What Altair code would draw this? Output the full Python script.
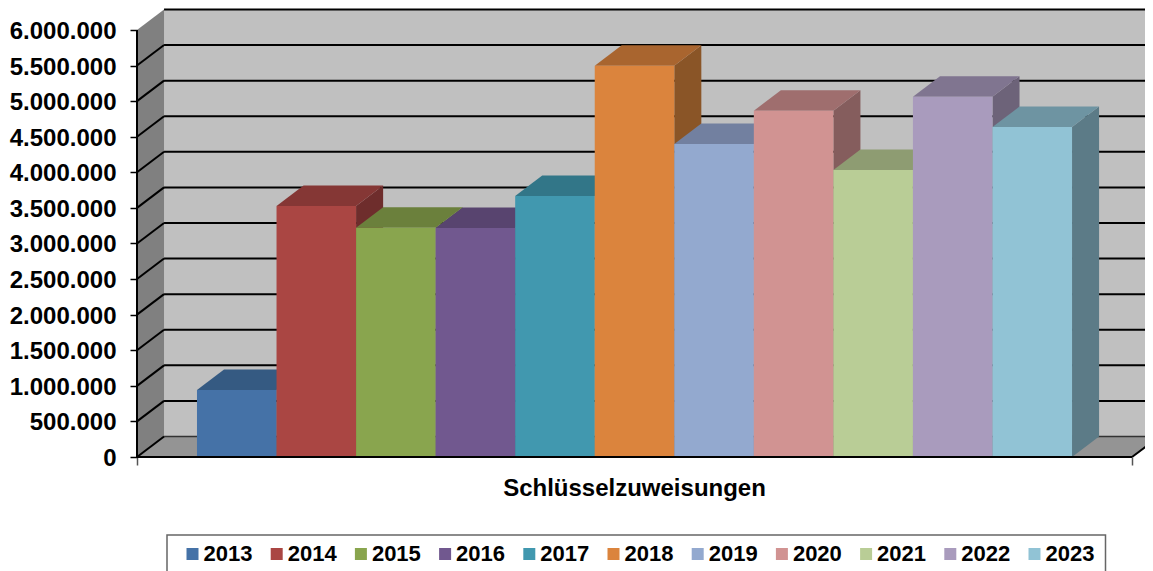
import altair as alt
import pandas as pd

# ---- chart values ----
years = ["2013","2014","2015","2016","2017","2018","2019","2020","2021","2022","2023"]
values = [941000,3527000,3222000,3218000,3667000,5498000,4398000,4866000,4033000,5063000,4637000]
front_colors = ["#4572A7","#AA4643","#89A54E","#71588F","#4198AF","#DB843D","#93A9CF","#D19392","#B9CD96","#A99BBD","#91C3D5"]
top_colors = ["#355A82","#853735","#6B803C","#58446F","#327688","#A9652F","#7280A0","#9F6E6E","#8E9C72","#807590","#6E94A2"]
side_colors = ["#2C4A6C","#6E2D2C","#596A32","#49395D","#2A6271","#8A5527","#5F6B86","#855D5D","#778660","#6D6379","#5C7B87"]
ticks = [0,500000,1000000,1500000,2000000,2500000,3000000,3500000,4000000,4500000,5000000,5500000,6000000]
title_text = "Schlüsselzuweisungen"

# ---- projection of the pseudo-3D box, in data units ----
GAP = 0.754      # free slots either side of the bars
DX = 0.34        # depth in slots
DY = 288000      # depth in value units
TOP = 6000000
XD = [-GAP, -GAP + 1008 / 79.55]
YD = [-1601800, 6308800]
FONT = "Liberation Sans"
xr = 11 + GAP

x_scale = alt.Scale(domain=XD, nice=False, zero=False)
y_scale = alt.Scale(domain=YD, nice=False, zero=False)
x_axis = alt.Axis(title=title_text, values=[-GAP, xr], labels=False, domain=False, grid=False,
                  tickSize=8, tickWidth=1.5, tickColor="#555555", offset=-114,
                  titleFont=FONT, titleFontSize=24, titleFontWeight="bold", titleColor="black",
                  titleX=497, titleY=19, titleAnchor="middle", titleAlign="center")
y_axis = alt.Axis(title=None, values=ticks, domain=False, grid=False, tickSize=7, tickWidth=1.5,
                  tickColor="black", labelPadding=14, labelFont=FONT, labelFontSize=24, labelOffset=1.5,
                  labelFontWeight="bold", labelColor="black", labelBaseline="middle", labelAlign="right",
                  labelExpr="replace(format(datum.value, ','), /,/g, '.')")

X = lambda f: alt.X(f, type="quantitative", scale=x_scale, axis=x_axis)
Y = lambda f: alt.Y(f, type="quantitative", scale=y_scale, axis=y_axis, stack=None)
X2 = lambda f: alt.X2(f)
Y2 = lambda f: alt.Y2(f)

# back wall
wall = pd.DataFrame({"a":[-GAP+DX],"b":[xr+DX],"c":[DY],"d":[TOP+DY]})
back = alt.Chart(wall).mark_rect(color="#C0C0C0").encode(x=X("a"), x2=X2("b"), y=Y("c"), y2=Y2("d"))

left = pd.DataFrame({"x":[-GAP,-GAP+DX],"y":[0,DY],"y2":[TOP,TOP+DY]})
left_wall = alt.Chart(left).mark_area(color="#808080", orient="vertical").encode(x=X("x"), y=Y("y"), y2=Y2("y2"))

floor = pd.DataFrame({"y":[0,DY],"x":[-GAP,-GAP+DX],"x2":[xr,xr+DX]})
floor_area = alt.Chart(floor).mark_area(color="#949494", orient="horizontal").encode(y=Y("y"), x=X("x"), x2=X2("x2"))

grid_back = pd.DataFrame({"v":[t+DY for t in ticks[1:]], "a":-GAP+DX, "b":xr+DX})
g_back = alt.Chart(grid_back).mark_rule(color="black", strokeWidth=2).encode(x=X("a"), x2=X2("b"), y=Y("v"))
base_back = alt.Chart(pd.DataFrame({"v":[DY],"a":[-GAP+DX],"b":[xr+DX]})).mark_rule(color="#333333", strokeWidth=1.5).encode(x=X("a"), x2=X2("b"), y=Y("v"))

diag = pd.DataFrame({"a":-GAP,"b":-GAP+DX,"v":ticks[:-1],"w":[t+DY for t in ticks[:-1]]})
g_diag = alt.Chart(diag).mark_rule(color="black", strokeWidth=2).encode(x=X("a"), x2=X2("b"), y=Y("v"), y2=Y2("w"))
right_edge = alt.Chart(pd.DataFrame({"a":[xr],"b":[xr+DX],"v":[0],"w":[DY]})).mark_rule(color="black", strokeWidth=2).encode(
    x=X("a"), x2=X2("b"), y=Y("v"), y2=Y2("w"))

# bars: sides, then tops, then fronts
side_rows, top_rows, front_rows = [], [], []
for k, (yr, v) in enumerate(zip(years, values)):
    side_rows += [{"c":side_colors[k],"x":k+1,"y":0,"y2":v},{"c":side_colors[k],"x":k+1+DX,"y":DY,"y2":v+DY}]
    top_rows += [{"c":top_colors[k],"y":v,"x":k,"x2":k+1},{"c":top_colors[k],"y":v+DY,"x":k+DX,"x2":k+1+DX}]
    front_rows.append({"year":yr,"a":k,"b":k+1,"v":v,"z":0})

sides = alt.Chart(pd.DataFrame(side_rows)).mark_area(orient="vertical").encode(
    x=X("x"), y=Y("y"), y2=Y2("y2"), color=alt.Color("c:N", scale=None))
tops = alt.Chart(pd.DataFrame(top_rows)).mark_area(orient="horizontal").encode(
    y=Y("y"), x=X("x"), x2=X2("x2"), color=alt.Color("c:N", scale=None))
fronts = alt.Chart(pd.DataFrame(front_rows)).mark_rect().encode(
    x=X("a"), x2=X2("b"), y=Y("v"), y2=Y2("z"),
    color=alt.Color("year:N", scale=alt.Scale(domain=years, range=front_colors),
                    legend=alt.Legend(orient="none", legendX=44.5, legendY=535, direction="horizontal", columns=11,
                                      title=None, symbolType="square", symbolSize=144, symbolStrokeWidth=0,
                                      labelFont=FONT, labelFontSize=22, labelFontWeight="bold", labelColor="black",
                                      columnPadding=13.2, labelOffset=0, padding=0)))

axis_line = alt.Chart(pd.DataFrame({"a":[-GAP],"v":[0],"w":[TOP]})).mark_rule(color="black", strokeWidth=2).encode(x=X("a"), y=Y("v"), y2=Y2("w"))
base_line = alt.Chart(pd.DataFrame({"a":[-GAP],"b":[xr],"v":[0]})).mark_rule(color="black", strokeWidth=2).encode(x=X("a"), x2=X2("b"), y=Y("v"))

legend_box = alt.Chart(pd.DataFrame({"o":[0]})).mark_rect(fill="white", stroke="#666666", strokeWidth=1.5).encode(
    x=alt.value(30), x2=alt.value(968.5), y=alt.value(527), y2=alt.value(580))

chart = alt.layer(back, left_wall, floor_area, base_back, g_back, g_diag, right_edge, sides, tops, legend_box, fronts, base_line, axis_line).resolve_scale(
    color="independent"
).properties(
    width=1008, height=563, padding={"left":129,"top":0,"right":0,"bottom":0},
    autosize=alt.AutoSizeParams(type="none"), background="white"
).configure_view(stroke=None)

chart.save("out.html", embed_options={"renderer": "svg", "actions": False})
